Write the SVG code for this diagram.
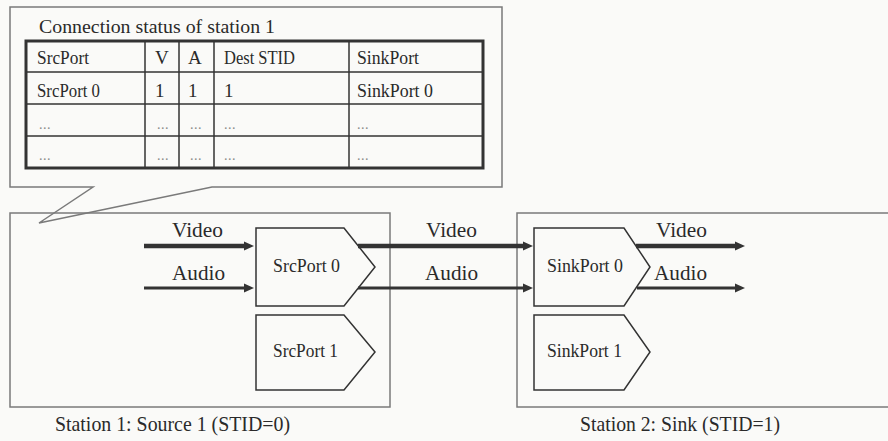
<svg xmlns="http://www.w3.org/2000/svg" width="888" height="441" viewBox="0 0 888 441">
<defs>
<style>
text{font-family:"Liberation Serif","DejaVu Serif",serif;fill:#2a2a2a}
.t18{font-size:19px}
.t20{font-size:21px}
.dots{font-size:14px;fill:#888;letter-spacing:0.5px}
.box{fill:none;stroke:#7a7a7a;stroke-width:1.5}
.callout{fill:#fafaf8;stroke:#7a7a7a;stroke-width:1.5}
.port{fill:#fafaf8;stroke:#333;stroke-width:1.5}
.grid{stroke:#333;stroke-width:1.5}
.tbl{fill:none;stroke:#333;stroke-width:3}
.vid{stroke:#333;stroke-width:4.5;fill:none}
.aud{stroke:#333;stroke-width:3;fill:none}
</style>
<marker id="arr" markerUnits="userSpaceOnUse" markerWidth="11" markerHeight="11" viewBox="0 -5.5 11 11" refX="1" refY="0" orient="auto">
<path d="M0,-4.5 L10,0 L0,4.5 Z" fill="#333"/>
</marker>
</defs>
<rect x="0" y="0" width="888" height="441" fill="#fafaf8"/>

<g id="status-callout">
<path class="callout" d="M10,7 H502 V187 H212 L39,223 L93,187 H10 Z"/>
<text x="39" y="33" font-family="Liberation Serif" style="font-size:19px" textLength="236" lengthAdjust="spacingAndGlyphs">Connection status of station 1</text>
<g id="status-table">
<line class="grid" x1="26" y1="72" x2="483" y2="72"/>
<line class="grid" x1="26" y1="104" x2="483" y2="104"/>
<line class="grid" x1="26" y1="136" x2="483" y2="136"/>
<line class="grid" x1="145" y1="41" x2="145" y2="168"/>
<line class="grid" x1="179" y1="41" x2="179" y2="168"/>
<line class="grid" x1="214" y1="41" x2="214" y2="168"/>
<line class="grid" x1="349" y1="41" x2="349" y2="168"/>
<rect class="tbl" x="26" y="41" width="457" height="127"/>
<text class="t18" x="37" y="64" textLength="52" lengthAdjust="spacingAndGlyphs">SrcPort</text>
<text class="t18" x="155" y="64">V</text>
<text class="t18" x="188" y="64">A</text>
<text class="t18" x="224" y="64" textLength="71" lengthAdjust="spacingAndGlyphs">Dest STID</text>
<text class="t18" x="357" y="64" textLength="62" lengthAdjust="spacingAndGlyphs">SinkPort</text>
<text class="t18" x="37" y="97" textLength="63" lengthAdjust="spacingAndGlyphs">SrcPort 0</text>
<text class="t18" x="155" y="97">1</text>
<text class="t18" x="188" y="97">1</text>
<text class="t18" x="224" y="97">1</text>
<text class="t18" x="357" y="97" textLength="76" lengthAdjust="spacingAndGlyphs">SinkPort 0</text>
<text class="dots" x="39" y="129">...</text>
<text class="dots" x="157" y="129">...</text>
<text class="dots" x="190" y="129">...</text>
<text class="dots" x="224" y="129">...</text>
<text class="dots" x="357" y="129">...</text>
<text class="dots" x="39" y="160">...</text>
<text class="dots" x="157" y="160">...</text>
<text class="dots" x="190" y="160">...</text>
<text class="dots" x="224" y="160">...</text>
<text class="dots" x="357" y="160">...</text>
</g>
</g>

<g id="station1">
<rect class="box" x="10" y="213" width="380" height="194"/>
<text class="t20" x="55" y="431" textLength="235" lengthAdjust="spacingAndGlyphs">Station 1: Source 1 (STID=0)</text>
</g>
<g id="station2">
<rect class="box" x="517" y="213" width="380" height="194"/>
<text class="t20" x="580" y="431" textLength="200" lengthAdjust="spacingAndGlyphs">Station 2: Sink (STID=1)</text>
</g>

<g id="srcport0">
<path class="port" d="M256,228 H344 L375,267 L344,306 H256 Z"/>
<text class="t18" x="273" y="272" textLength="67" lengthAdjust="spacingAndGlyphs">SrcPort 0</text>
</g>
<g id="srcport1">
<path class="port" d="M256,315 H344 L375,352 L344,390 H256 Z"/>
<text class="t18" x="273" y="357" textLength="65" lengthAdjust="spacingAndGlyphs">SrcPort 1</text>
</g>
<g id="sinkport0">
<path class="port" d="M534,228 H624 L650,267 L624,306 H534 Z"/>
<text class="t18" x="547" y="272" textLength="76" lengthAdjust="spacingAndGlyphs">SinkPort 0</text>
</g>
<g id="sinkport1">
<path class="port" d="M534,315 H624 L650,352 L624,390 H534 Z"/>
<text class="t18" x="547" y="357" textLength="75" lengthAdjust="spacingAndGlyphs">SinkPort 1</text>
</g>

<g id="connectors">
<path class="vid" d="M144,246 H245" marker-end="url(#arr)"/>
<path class="aud" d="M144,288 H245" marker-end="url(#arr)"/>
<path class="vid" d="M358,246 H524" marker-end="url(#arr)"/>
<path class="aud" d="M358,288 H524" marker-end="url(#arr)"/>
<path class="vid" d="M636,246 H736" marker-end="url(#arr)"/>
<path class="aud" d="M637,288 H736" marker-end="url(#arr)"/>
<text class="t20" x="172" y="237" textLength="51" lengthAdjust="spacingAndGlyphs">Video</text>
<text class="t20" x="172" y="280" textLength="53" lengthAdjust="spacingAndGlyphs">Audio</text>
<text class="t20" x="426" y="237" textLength="51" lengthAdjust="spacingAndGlyphs">Video</text>
<text class="t20" x="425" y="280" textLength="53" lengthAdjust="spacingAndGlyphs">Audio</text>
<text class="t20" x="656" y="237" textLength="51" lengthAdjust="spacingAndGlyphs">Video</text>
<text class="t20" x="654" y="280" textLength="53" lengthAdjust="spacingAndGlyphs">Audio</text>
</g>
</svg>
